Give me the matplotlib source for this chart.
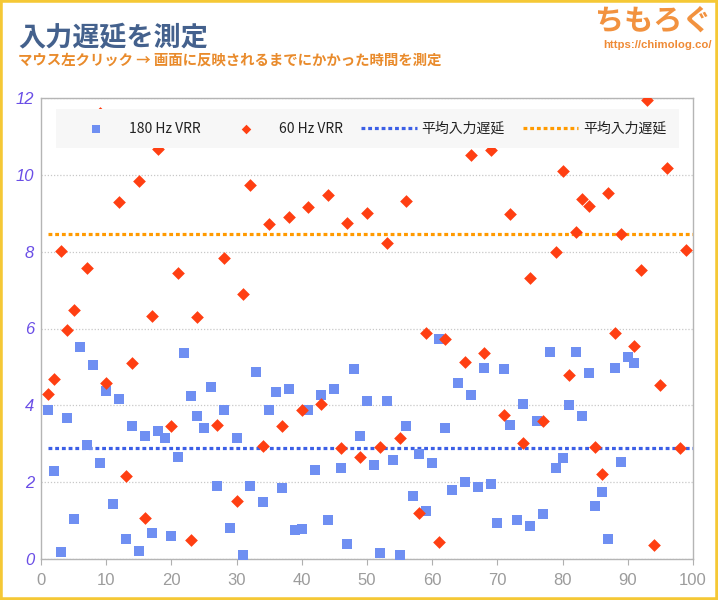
import matplotlib
matplotlib.use("Agg")
import matplotlib.pyplot as plt
from matplotlib.patches import Rectangle
import numpy as np

# 180 Hz VRR: input latency per click (ms)
vrr180 = [3.87, 2.28, 0.17, 3.67, 1.05, 5.51, 2.96, 5.04, 2.50, 4.38,
          1.44, 4.16, 0.53, 3.45, 0.21, 3.19, 0.67, 3.33, 3.14, 0.59,
          2.66, 5.36, 4.24, 3.73, 3.42, 4.47, 1.89, 3.87, 0.81, 3.14,
          0.10, 1.89, 4.88, 1.48, 3.89, 4.35, 1.84, 4.42, 0.75, 0.78,
          3.89, 2.31, 4.26, 1.02, 4.43, 2.37, 0.38, 4.95, 3.19, 4.11,
          2.45, 0.16, 4.12, 2.58, 0.10, 3.46, 1.65, 2.73, 1.24, 2.49,
          5.72, 3.42, 1.79, 4.57, 2.00, 4.26, 1.87, 4.97, 1.96, 0.94,
          4.94, 3.50, 1.01, 4.04, 0.85, 3.59, 1.18, 5.40, 2.38, 2.63,
          4.00, 5.40, 3.72, 4.83, 1.39, 1.75, 0.51, 4.96, 2.53, 5.27,
          5.11]

# 60 Hz VRR (values above 12 are cut off by the axis)
vrr60 = [4.29, 4.68, 8.03, 5.96, 6.49, 13.2, 7.58, 15.1, 11.62, 4.59,
         12.6, 9.28, 2.17, 5.09, 9.83, 1.06, 6.32, 10.68, 16.3, 3.46,
         7.45, 14.0, 0.49, 6.29, 12.9, 15.8, 3.50, 7.84, 13.6, 1.50,
         6.91, 9.73, 16.6, 2.95, 8.72, 14.4, 3.46, 8.91, 13.6, 3.87,
         9.15, 15.3, 4.03, 9.47, 13.9, 2.90, 8.74, 16.1, 2.66, 9.01,
         12.8, 2.92, 8.22, 14.7, 3.16, 9.32, 15.6, 1.19, 5.88, 13.3,
         0.43, 5.73, 16.8, 13.8, 5.13, 10.52, 14.9, 5.36, 10.65, 15.4,
         3.74, 8.99, 13.1, 3.03, 7.31, 16.2, 3.60, 14.2, 7.99, 10.09,
         4.79, 8.52, 9.37, 9.19, 2.91, 2.20, 9.52, 5.87, 8.45, 12.5,
         5.55, 7.52, 11.95, 0.36, 4.52, 10.19, 15.9, 2.88, 8.05]

x180 = list(range(1, len(vrr180) + 1))
x60 = list(range(1, len(vrr60) + 1))
mean180 = np.mean(vrr180)
mean60 = np.mean(vrr60)

labels = ["180 Hz VRR", "60 Hz VRR", "平均入力遅延", "平均入力遅延"]
xticks = [0, 10, 20, 30, 40, 50, 60, 70, 80, 90, 100]
yticks = [0, 2, 4, 6, 8, 10, 12]

plt.rcParams['font.family'] = ['Noto Sans CJK JP', 'DejaVu Sans']

fig = plt.figure(figsize=(7.18, 6.0), dpi=100)
ax = fig.add_axes([41/718, 1 - 559/600, 652/718, 461/600])

ax.scatter(x180, vrr180, marker='s', s=60, color='#6f8ff2', label=labels[0], zorder=3, linewidths=0)
ax.scatter(x60, vrr60, marker='D', s=42, color='#ff3f12', label=labels[1], zorder=4, linewidths=0)
ax.plot([1, 100], [mean180, mean180], color='#3c5fe6', lw=2.3, linestyle=(0, (1.2, 0.9)), label=labels[2], zorder=2)
ax.plot([1, 100], [mean60, mean60], color='#ff9a00', lw=2.3, linestyle=(0, (1.2, 0.9)), label=labels[3], zorder=2)

ax.set_xlim(0, 100)
ax.set_ylim(0, 12)
ax.set_xticks(xticks)
ax.set_yticks(yticks)
ax.set_xticklabels([str(t) for t in xticks], color='#9c9c9c', fontsize=12,
                   family=['Liberation Sans Narrow', 'Liberation Sans'])
ax.set_yticklabels([str(t) for t in yticks], color='#6a4ee6', fontsize=12,
                   style='italic', family=['Liberation Sans'])
ax.tick_params(axis='x', length=4, color='#b0b0b0', pad=6)
ax.tick_params(axis='y', length=0, pad=5)
ax.yaxis.grid(True, color='#c8c8c8', linestyle=(0, (1, 1.5)), lw=0.9)
for s in ax.spines.values():
    s.set_color('#b5b5b5')
    s.set_linewidth(1)

leg = ax.legend(loc='upper center', bbox_to_anchor=(0.5008, 0.976), ncol=4,
                fontsize=10, frameon=True, fancybox=False, framealpha=1,
                scatterpoints=1, markerscale=0.75, handlelength=4.0, handletextpad=0.35,
                columnspacing=1.3, borderpad=0.9, borderaxespad=0)
leg.get_frame().set_facecolor('#f7f7f7')
leg.get_frame().set_edgecolor('none')
leg.set_zorder(10)
for t in leg.get_texts():
    t.set_color('#222222')

# headings
fig.text(18/718, 1 - 38/600, "入力遅延を測定", fontsize=19.5, fontweight='bold',
         color='#44618d', va='center', ha='left')
fig.text(18/718, 1 - 61/600, "マウス左クリック → 画面に反映されるまでにかかった時間を測定",
         fontsize=10.4, fontweight='bold', color='#e98b2c', va='center', ha='left')
fig.text(712/718, 1 - 21/600, "ちもろぐ", fontsize=21, fontweight='bold',
         color='#f2923f', va='center', ha='right')
fig.text(712/718, 1 - 45/600, "https://chimolog.co/", fontsize=8.2, fontweight='bold',
         color='#ef8a35', va='center', ha='right',
         family=['Liberation Sans Narrow', 'Liberation Sans'])

fig.patches.append(Rectangle((0, 0), 1, 1, transform=fig.transFigure, fill=False,
                             edgecolor='#f5c836', lw=4))

fig.savefig("out.png", dpi=100)
